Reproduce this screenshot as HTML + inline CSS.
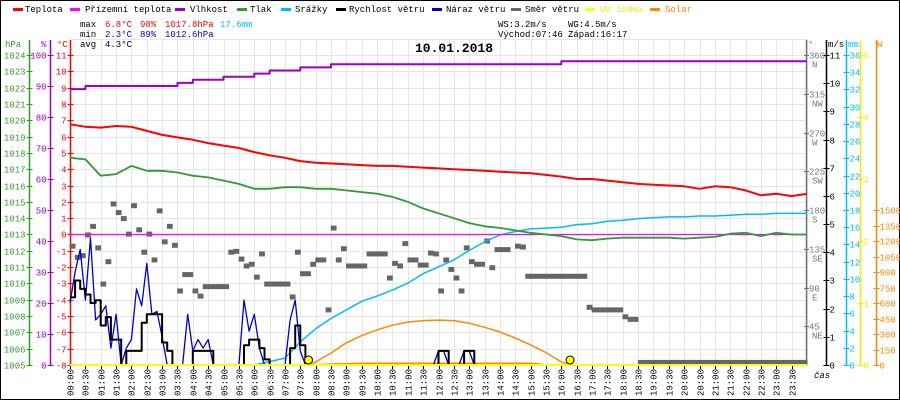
<!DOCTYPE html>
<html><head><meta charset="utf-8"><style>
html,body{margin:0;padding:0;background:#fff}
svg{display:block}
text{font-family:"Liberation Mono",monospace;font-size:9px}
</style></head><body>
<svg id="chart" width="900" height="400" viewBox="0 0 900 400" xmlns="http://www.w3.org/2000/svg">
<rect x="0.5" y="0.5" width="899" height="399" fill="#fff" stroke="#000"/>
<g id="grid"></g>
<g id="legend">
 <rect x="13" y="8" width="10" height="3" fill="#f00"/><text x="25" y="12">Teplota</text>
 <rect x="70" y="8" width="10" height="3" fill="#f0f"/><text x="85" y="12">Přízemní teplota</text>
 <rect x="175" y="8" width="10" height="3" fill="#90c"/><text x="190" y="12">Vlhkost</text>
 <rect x="237" y="8" width="10" height="3" fill="#393"/><text x="250" y="12">Tlak</text>
 <rect x="281" y="8" width="10" height="3" fill="#0bf"/><text x="295" y="12">Srážky</text>
 <rect x="336" y="8" width="10" height="3" fill="#000"/><text x="349" y="12">Rychlost větru</text>
 <rect x="432" y="8" width="10" height="3" fill="#00c"/><text x="446" y="12">Náraz větru</text>
 <rect x="511" y="8" width="10" height="3" fill="#666"/><text x="525" y="12">Směr větru</text>
 <rect x="585" y="8" width="10" height="3" fill="#ff0"/><text x="600" y="12" fill="#ee0">UV index</text>
 <rect x="650" y="8" width="10" height="3" fill="#f80"/><text x="665" y="12" fill="#f80">Solar</text>
</g>
<g id="stats">
 <text x="80" y="27">max</text><text x="105" y="27" fill="#f00">6.8°C</text><text x="140" y="27" fill="#f00">98%</text><text x="165" y="27" fill="#f00">1017.8hPa</text><text x="220" y="27" fill="#0bf">17.6mm</text>
 <text x="80" y="37">min</text><text x="105" y="37" fill="#00c">2.3°C</text><text x="140" y="37" fill="#00c">89%</text><text x="165" y="37" fill="#00c">1012.6hPa</text>
 <text x="80" y="47">avg</text><text x="105" y="47">4.3°C</text>
 <text x="498" y="27">WS:3.2m/s</text><text x="568" y="27">WG:4.5m/s</text>
 <text x="498" y="37">Východ:07:46</text><text x="568" y="37">Západ:16:17</text>
</g>
<text x="415" y="52" style="font-size:13px;font-weight:bold">10.01.2018</text>
<g id="axes"></g>
<g id="series"></g>
</svg>
<script>
// ---- data ----
const halfHours = [0,30,60,90,120,150,180,210,240,270,300,330,360,390,420,450,480,510,540,570,600,630,660,690,720,750,780,810,840,870,900,930,960,990,1020,1050,1080,1110,1140,1170,1200,1230,1260,1290,1320,1350,1380,1410,1440];
const temperature = [6.75,6.6,6.55,6.65,6.6,6.35,6.1,5.95,5.8,5.6,5.45,5.3,5.05,4.85,4.7,4.5,4.4,4.35,4.3,4.25,4.2,4.2,4.15,4.1,4.05,4.0,3.95,3.9,3.85,3.8,3.75,3.65,3.55,3.4,3.4,3.3,3.2,3.1,3.05,3.0,2.95,2.8,2.95,2.9,2.7,2.4,2.5,2.35,2.5];
const pressure = [1017.7,1017.6,1016.6,1016.7,1017.2,1016.9,1016.9,1016.8,1016.6,1016.5,1016.3,1016.1,1015.8,1015.8,1015.9,1015.9,1015.8,1015.8,1015.7,1015.6,1015.5,1015.3,1015.0,1014.6,1014.3,1014.0,1013.7,1013.5,1013.4,1013.25,1013.1,1013.0,1012.9,1012.7,1012.65,1012.75,1012.8,1012.8,1012.8,1012.8,1012.75,1012.8,1012.85,1013.05,1013.1,1012.9,1013.1,1013.0,1013.0];
const humidity = [89,90,90,90,90,90,90,91,92,92,93,93,94,95,95,96,96,97,97,97,97,97,97,97,97,97,97,97,97,97,97,97,98,98,98,98,98,98,98,98,98,98,98,98,98,98,98,98,98];
const rain = [0,0,0,0,0,0,0,0,0,0,0,0,0,0.4,0.8,2.7,4.2,5.4,6.4,7.4,8.0,8.7,9.5,10.6,11.4,12.2,13.3,14.3,15.1,15.5,15.8,15.9,16.0,16.3,16.4,16.7,16.8,17.0,17.1,17.2,17.2,17.3,17.3,17.4,17.5,17.5,17.6,17.6,17.6];
const groundTemp = [0,0,0,0,0,0,0,0,0,0,0,0,0,0,0,0,0,0,0,0,0,0,0,0,0,0,0,0,0,0,0,0,0,0,0,0,0,0,0,0,0,0,0,0,0,0,0,0,0];
const uvIndex = [0,0,0,0,0,0,0,0,0,0,0,0,0,0,0,0,0,0,0,0,0,0,0,0,0,0,0,0,0,0,0,0,0,0,0,0,0,0,0,0,0,0,0,0,0,0,0,0,0];
const solar = [0,0,0,0,0,0,0,0,0,0,0,0,0,0,0,0,0,8,10,15,15,15,15,15,15,15,15,15,15,15,15,0,0,0,0,0,0,0,0,0,0,0,0,0,0,0,0,0,0];
const solarMaxTimes = [466,480,510,540,570,600,630,660,690,720,750,780,810,840,870,900,930,960,977];
const solarMax = [0,30,115,215,285,340,385,415,430,435,430,405,365,320,260,195,120,30,0];
const windSpeed = [2.4,3.0,2.7,2.5,2.2,2.3,1.4,1.7,0.9,0.9,0,0.5,0.5,0.5,1.5,1.8,1.8,1.8,0.8,0.5,0,0,0,0,0.5,0.5,0.5,0.5,0,0,0,0,0,0,0.7,0.9,0.9,0.6,0.2,0,0,0,0,0.6,1.4,0.7,0,0,0,0,0,0,0,0,0,0,0,0,0,0,0,0,0,0,0,0,0,0,0,0,0,0,0.5,0.5,0,0,0,0.5,0.5,0,0,0,0,0,0,0,0,0,0,0,0,0,0,0,0,0,0,0,0,0,0,0,0,0,0,0,0,0,0,0,0,0,0,0,0,0,0,0,0,0,0,0,0,0,0,0,0,0,0,0,0,0,0,0,0,0,0,0,0,0,0,0,0,0,0];
const windGust = [2.2,3.3,4.1,2.3,4.5,1.6,1.8,2.1,0.6,1.8,0,0.6,0.9,2.7,2.1,3.6,1.8,1.9,1.0,0,0,0,0,1.8,0.5,0.9,0.6,0.9,0,0,0,0,0,0,2.3,1.2,1.8,0.6,0,0,0,0,0,1.6,2.3,0.5,0,0,0,0,0,0,0,0,0,0,0,0,0,0,0,0,0,0,0,0,0,0,0,0,0,0,0.5,0.5,0,0,0,0.5,0.5,0,0,0,0,0,0,0,0,0,0,0,0,0,0,0,0,0,0,0,0,0,0,0,0,0,0,0,0,0,0,0,0,0,0,0,0,0,0,0,0,0,0,0,0,0,0,0,0,0,0,0,0,0,0,0,0,0,0,0,0,0,0,0,0,0,0];
const windDir = [138,125,127,151,161,136,94,120,187,177,170,152,185,157,131,152,122,179,143,161,139,86,105,105,86,80,91,91,91,91,91,131,132,123,115,117,102,129,94,94,94,94,94,79,131,106,106,117,122,122,64,159,122,135,115,115,115,115,129,129,129,129,101,118,115,141,122,122,116,116,130,129,86,122,111,101,86,136,120,117,117,144,113,134,134,134,null,138,137,103,103,103,103,103,103,103,103,103,103,103,103,67,64,64,64,64,64,64,56,53,53,3,3,3,3,3,3,3,3,3,3,3,3,3,3,3,3,3,3,3,3,3,3,3,3,3,3,3,3,3,3,3,3,3];
const sunEvents = [466,977];
const timeLabels = ["00:00","00:30","01:00","01:30","02:00","02:30","03:00","03:30","04:00","04:30","05:00","05:30","06:00","06:30","07:00","07:30","08:00","08:30","09:00","09:30","10:00","10:30","11:00","11:30","12:00","12:30","13:00","13:30","14:00","14:30","15:00","15:30","16:00","16:30","17:00","17:30","18:00","18:30","19:00","19:30","20:00","20:30","21:00","21:30","22:00","22:30","23:00","23:30"];
const tempTicks = [-8,-7,-6,-5,-4,-3,-2,-1,0,1,2,3,4,5,6,7,8,9,10,11];
const pressTicks = [1005,1006,1007,1008,1009,1010,1011,1012,1013,1014,1015,1016,1017,1018,1019,1020,1021,1022,1023,1024];
const humTicks = [0,10,20,30,40,50,60,70,80,90,100];
const dirTicks = [45,90,135,180,225,270,315,360];
const dirNames = ["NE","E","SE","S","SW","W","NW","N"];
const windTicks = [0,1,2,3,4,5,6,7,8,9,10,11];
const rainTicks = [0,2,4,6,8,10,12,14,16,18,20,22,24,26,28,30,32,34,36];
const uvTicks = [0,1,2,3,4,5];
const solarTicks = [0,150,300,450,600,750,900,1050,1200,1350,1500];

// ---- scales ----
const X0=70, X1=807, YB=365, YT=55;
const X = t => X0 + t*(X1-X0)/1440;
const yT = v => YB - (v+8)*(YB-YT)/19;
const yP = p => YB - (p-1005)*(YB-YT)/19;
const yH = h => YB - h*(YB-YT)/100;
const yW = v => YB - v*(YB-YT)/11;
const yR = m => YB - m*(YB-YT)/36;
const yU = u => YB - u*(YB-YT)/5;
const yS = w => YB - w*0.10333;
const yD = d => YB - d*(YB-YT)/360;

const NS="http://www.w3.org/2000/svg";
function mk(parent, tag, attrs, txt){
  const e=document.createElementNS(NS,tag);
  for(const k in attrs) e.setAttribute(k,attrs[k]);
  if(txt!==undefined) e.textContent=txt;
  parent.appendChild(e); return e;
}
const grid=document.getElementById('grid'), axes=document.getElementById('axes'), ser=document.getElementById('series');

for(let i=0;i<=48;i++){ const x=Math.round(X(i*30))+0.5;
  const l=mk(grid,'line',{x1:x,x2:x,y1:40,y2:YB,stroke:'#e6e6e6'});
  
  
}
for(let v=-7;v<=12;v++){ const y=Math.round(yT(v))+0.5;
  const l=mk(grid,'line',{x1:X0,x2:X1,y1:y,y2:y,stroke:'#e6e6e6'});
  
  
}

function vAxis(x,color,ticks,scale,labelFn,side,name){
  const g=mk(axes,'g',{});
  
  
  mk(g,'line',{x1:x,x2:x,y1:40,y2:YB+1,stroke:color,'stroke-width':1.5});
  ticks.forEach(v=>{ const y=Math.round(scale(v))+0.5;
    mk(g,'line',{x1:x-3,x2:x+3,y1:y,y2:y,stroke:color});
    const lab=labelFn(v);
    if(side==='left') mk(g,'text',{x:x-4,y:y+3,'text-anchor':'end',fill:color},lab);
    else mk(g,'text',{x:x+3,y:y+3,fill:color},lab);
  });
  return g;
}
vAxis(29.5,'#393',pressTicks,yP,v=>v,'left','pressure-axis');
vAxis(50.5,'#90c',humTicks,yH,v=>v,'left','humidity-axis');
vAxis(70.5,'#f00',tempTicks,yT,v=>v,'left','temperature-axis');
(function(){
  const g=mk(axes,'g',{});
  
  
  mk(g,'line',{x1:806.5,x2:806.5,y1:40,y2:YB+1,stroke:'#777','stroke-width':1.5});
  dirTicks.forEach((d,i)=>{ const y=Math.round(yD(d))+0.5;
    mk(g,'line',{x1:804,x2:809,y1:y,y2:y,stroke:'#777'});
    mk(g,'text',{x:809,y:y+3,fill:'#777'},d);
    mk(g,'text',{x:812,y:y+12,fill:'#777'},dirNames[i]);
  });
})();
vAxis(826.5,'#000',windTicks,yW,v=>v,'right','wind-speed-axis');
vAxis(846.5,'#0bf',rainTicks,yR,v=>v,'right','rain-axis');
vAxis(860.5,'#ee0',uvTicks,yU,v=>v,'right','uv-axis');
vAxis(876.5,'#f80',solarTicks,yS,v=>v,'right','solar-axis');
[[5,'hPa','#393'],[41,'%','#90c'],[57,'°C','#f00'],[808,'°','#777'],[828,'m/s','#000'],[848,'mm','#0bf'],[877,'W','#f80']].forEach(a=>{
  const t=mk(axes,'text',{x:a[0],y:47,fill:a[2]},a[1]);
  
  
});
timeLabels.forEach((lab,i)=>{ const x=Math.round(X(i*30))+0.5;
  mk(axes,'line',{x1:x,x2:x,y1:YB,y2:YB+4,stroke:'#000'});
  const t=mk(axes,'text',{x:x+3,y:369,'text-anchor':'end',transform:`rotate(-90 ${x+3} 369)`},lab);
  
  
});
const cas=mk(axes,'text',{x:814,y:378,'font-style':'italic'},'čas');



function line(times,vals,scale,color,w,name,step){
  const pts=[]; let prevY=null;
  vals.forEach((v,i)=>{ if(v===null) return;
    const x=X(times[i]).toFixed(1), y=scale(v).toFixed(1);
    if(step && prevY!==null) pts.push(x+','+prevY);
    pts.push(x+','+y); prevY=y; });
  const p=mk(ser,'polyline',{points:pts.join(' '),fill:'none',stroke:color,'stroke-width':w,'stroke-linejoin':'round'});
  
  
  return p;
}
const tenMin = windSpeed.map((_,i)=>i*10);
windDir.forEach((d,i)=>{ if(d===null) return;
  const r=mk(ser,'rect',{x:X(i*10)-0.3,y:yD(d)-2.5,width:5.8,height:5,fill:'#666'});
  
  
});
line(solarMaxTimes,solarMax,yS,'#f80',1.5,'solar-max-line');
line(halfHours,solar,yS,'#f80',2,'solar-line');
line(halfHours,rain,yR,'#0bf',1.5,'rain-line');
line(halfHours,groundTemp,yT,'#f0f',1.2,'ground-temp-line');
line(halfHours,pressure,yP,'#393',1.8,'pressure-line');
line(halfHours,temperature,yT,'#f00',2,'temperature-line');
line(halfHours,humidity,yH,'#90c',2,'humidity-line',true);
line(tenMin,windGust,yW,'#00c',1.3,'wind-gust-line');
line(tenMin,windSpeed,yW,'#000',2,'wind-speed-line',true);
mk(ser,'line',{x1:X0,x2:X1,y1:YB+0.5,y2:YB+0.5,stroke:'#000'});
line(halfHours,uvIndex,yU,'#ff0',2,'uv-line');
sunEvents.forEach(t=>{
  const c=mk(ser,'circle',{cx:X(t),cy:360,r:4,fill:'#ff0',stroke:'#000','stroke-width':1});
  
  
});
</script>
</body></html>
